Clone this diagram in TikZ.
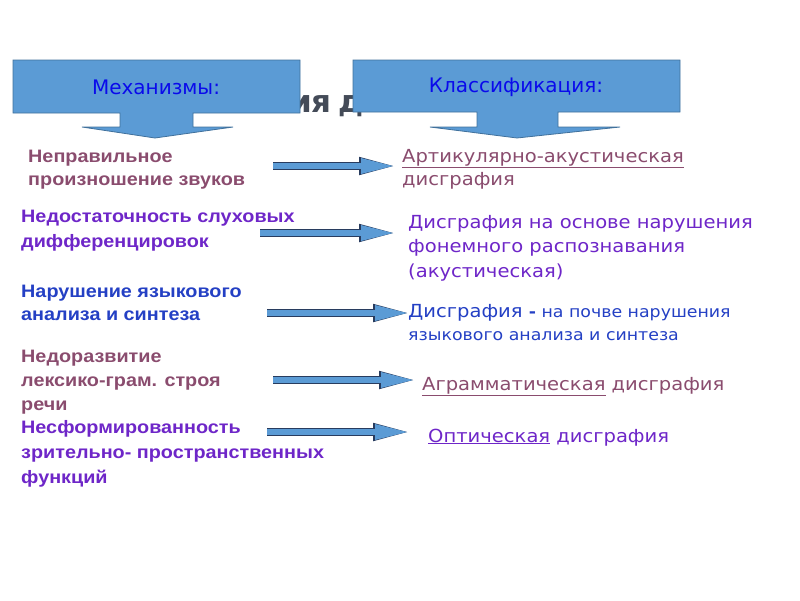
\documentclass[tikz,border=0pt]{standalone}
\usepackage{fontspec}
\setmainfont{DejaVu Sans}
\newfontfamily\leftfont[FakeStretch=1.1]{Liberation Sans}
\newfontfamily\rightfont[FakeStretch=1.085]{DejaVu Sans}
\newfontfamily\titlefont{DejaVu Sans}
\newfontfamily\boxfont{DejaVu Sans}
\usepackage{tikz}
\usetikzlibrary{arrows.meta, positioning, calc}

\definecolor{boxblue}{RGB}{91,155,213}
\definecolor{boxedge}{RGB}{65,113,156}
\definecolor{arredge}{RGB}{40,60,95}
\definecolor{lblblue}{RGB}{10,10,235}
\definecolor{titlegrey}{RGB}{68,75,88}
\definecolor{txtmauve}{RGB}{138,76,110}
\definecolor{txtviolet}{RGB}{110,38,200}
\definecolor{txtblue}{RGB}{36,64,196}

\begin{document}
\begin{tikzpicture}[
      x=1pt, y=-1pt,
      callout/.style={fill=boxblue, draw=boxedge, line width=0.8pt},
      boxlbl/.style={inner sep=0, text=lblblue, font=\boxfont\fontsize{20}{22}\selectfont},
      leftlbl/.style={anchor=base west, align=left, inner sep=0,
        font=\leftfont\bfseries\fontsize{18}{24}\selectfont},
      rightlbl/.style={anchor=base west, align=left, inner sep=0,
        font=\rightfont\fontsize{18}{24.5}\selectfont},
      blockarr/.style={draw=boxblue, line width=6pt,
        -{Triangle[length=32pt, width=16pt, line width=0pt]},
        preaction={draw=arredge, line width=7.6pt,
          -{Triangle[length=34pt, width=18.5pt, line width=0pt]}}}
    ]
      \useasboundingbox (0,0) rectangle (800,600);

      % title, mostly hidden behind the callouts
      \node[anchor=base west, inner sep=0, text=titlegrey,
        font=\titlefont\bfseries\fontsize{31}{36}\selectfont] (title) at (290,112)
        {ия\hspace{0.22em}д};

      % the two callouts
      \draw[callout] (13,60) -- (300,60) -- (300,113) -- (193,113) -- (193,127)
        -- (233,127) -- (155,138) -- (82,127) -- (120,127) -- (120,113)
        -- (13,113) -- cycle;
      \draw[callout] (353,60) -- (680,60) -- (680,112) -- (558,112) -- (558,127)
        -- (620,127) -- (517,138) -- (430,127) -- (477,127) -- (477,112)
        -- (353,112) -- cycle;
      \node[boxlbl] (mech) at (156,87) {Механизмы:};
      \node[boxlbl] (klass) at (516,87) {Классификация:};

      % mechanisms (positions are last-line baselines)
      \node[leftlbl, text=txtmauve, font=\leftfont\bfseries\fontsize{18}{23}\selectfont] (m1) at (28,185)
        {Неправильное\\произношение звуков};
      \node[leftlbl, text=txtviolet, font=\leftfont\bfseries\fontsize{18}{25}\selectfont] (m2) at (21,247)
        {Недостаточность слуховых\\дифференцировок};
      \node[leftlbl, text=txtblue, font=\leftfont\bfseries\fontsize{18}{23}\selectfont] (m3) at (21,320)
        {Нарушение языкового\\анализа и синтеза};
      \node[leftlbl, text=txtmauve] (m4) at (21,410) {Недоразвитие\\лексико-грам. строя\\речи};
      \node[leftlbl, text=txtviolet, font=\leftfont\bfseries\fontsize{18}{25}\selectfont] (m5) at (21,483)
        {Несформированность\\зрительно- пространственных\\функций};

      % classification
      \node[rightlbl, text=txtmauve, font=\rightfont\fontsize{18}{23}\selectfont] (k1) at (402,185)
        {\underline{Артикулярно-акустическая}\\дисграфия};
      \node[rightlbl, text=txtviolet] (k2) at (408,277)
        {Дисграфия на основе нарушения\\фонемного распознавания\\(акустическая)};
      \node[rightlbl, text=txtblue, font=\rightfont\fontsize{18}{23}\selectfont] (k3) at (408,340)
        {Дисграфия {\fontsize{16}{23}\selectfont\textbf{-} на почве нарушения}\\
         {\fontsize{16}{23}\selectfont языкового анализа и синтеза}};
      \node[rightlbl, text=txtmauve] (k4) at (422,390) {\underline{Аграмматическая} дисграфия};
      \node[rightlbl, text=txtviolet] (k5) at (428,442) {\underline{Оптическая} дисграфия};

      % arrows
      \coordinate (s1) at (273,166); \coordinate (t1) at (393,166);
      \coordinate (s2) at (260,233); \coordinate (t2) at (393,233);
      \coordinate (s3) at (267,313); \coordinate (t3) at (407,313);
      \coordinate (s4) at (273,380); \coordinate (t4) at (413,380);
      \coordinate (s5) at (267,432); \coordinate (t5) at (407,432);
      \draw[blockarr] (s1) -- (t1);
      \draw[blockarr] (s2) -- (t2);
      \draw[blockarr] (s3) -- (t3);
      \draw[blockarr] (s4) -- (t4);
      \draw[blockarr] (s5) -- (t5);
    \end{tikzpicture}
\end{document}
